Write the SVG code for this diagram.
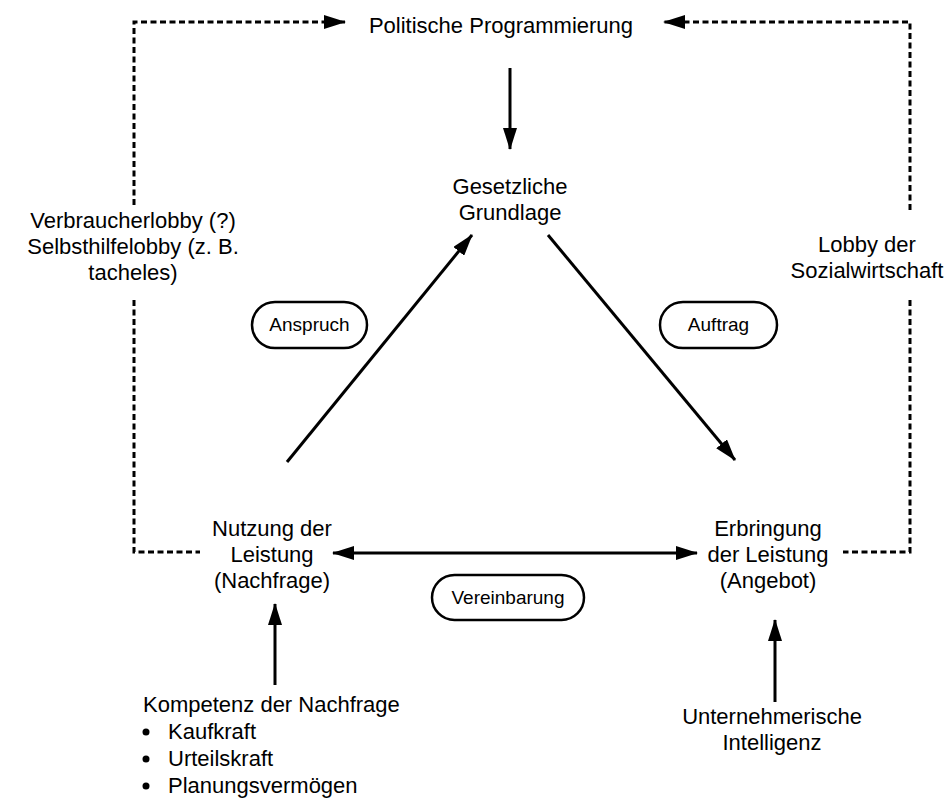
<svg xmlns="http://www.w3.org/2000/svg" width="950" height="799" viewBox="0 0 950 799">
<style>
text{font-family:"Liberation Sans",Arial,sans-serif;font-size:22px;fill:#000}
.c{text-anchor:middle}
.p{font-size:19px}
.sol{fill:none;stroke:#000;stroke-width:3}
.dash{fill:none;stroke:#000;stroke-width:3;stroke-dasharray:6 3.5}
.pill{fill:#fff;stroke:#000;stroke-width:2.5}
</style>
<defs>
<marker id="ah" markerUnits="userSpaceOnUse" markerWidth="22" markerHeight="14" refX="21" refY="7" orient="auto-start-reverse">
<path d="M0,0 L22,7 L0,14 z" fill="#000"/>
</marker>
</defs>
<rect width="950" height="799" fill="#fff"/>
<g id="connectors">
<path class="dash" d="M134,205 V22 H345" marker-end="url(#ah)"/>
<path class="dash" d="M134,300 V552 H200"/>
<path class="dash" d="M910,210 V22 H664" marker-end="url(#ah)"/>
<path class="dash" d="M910,300 V552 H843"/>
<path class="sol" d="M510,68 V149" marker-end="url(#ah)"/>
<path class="sol" d="M287,462 L472,235" marker-end="url(#ah)"/>
<path class="sol" d="M548,235 L735,460" marker-end="url(#ah)"/>
<path class="sol" d="M333,553 H697" marker-start="url(#ah)" marker-end="url(#ah)"/>
<path class="sol" d="M275,685 V604" marker-end="url(#ah)"/>
<path class="sol" d="M775,702 V620" marker-end="url(#ah)"/>
</g>
<g id="politische">
<text class="c" x="501" y="33">Politische Programmierung</text>
</g>
<g id="gesetzliche">
<text class="c" x="510" y="194">Gesetzliche</text>
<text class="c" x="510" y="220">Grundlage</text>
</g>
<g id="verbraucher">
<text class="c" x="133" y="228">Verbraucherlobby (?)</text>
<text class="c" x="133" y="254">Selbsthilfelobby (z. B.</text>
<text class="c" x="133" y="280">tacheles)</text>
</g>
<g id="sozialwirtschaft">
<text class="c" x="867" y="252">Lobby der</text>
<text class="c" x="867" y="278">Sozialwirtschaft</text>
</g>
<g id="anspruch">
<rect class="pill" x="252" y="302" width="115" height="46" rx="23"/>
<text class="c p" x="309.5" y="331">Anspruch</text>
</g>
<g id="auftrag">
<rect class="pill" x="660" y="302" width="117" height="46" rx="23"/>
<text class="c p" x="718.5" y="331">Auftrag</text>
</g>
<g id="nutzung">
<text class="c" x="272" y="536">Nutzung der</text>
<text class="c" x="272" y="562">Leistung</text>
<text class="c" x="272" y="588">(Nachfrage)</text>
</g>
<g id="erbringung">
<text class="c" x="768" y="536">Erbringung</text>
<text class="c" x="768" y="562">der Leistung</text>
<text class="c" x="768" y="588">(Angebot)</text>
</g>
<g id="vereinbarung">
<rect class="pill" x="432" y="575" width="152" height="45" rx="22.5"/>
<text class="c p" x="508" y="604">Vereinbarung</text>
</g>
<g id="kompetenz">
<text x="143" y="712">Kompetenz der Nachfrage</text>
<circle cx="146" cy="732" r="3.5"/>
<text x="168" y="739">Kaufkraft</text>
<circle cx="146" cy="759" r="3.5"/>
<text x="168" y="766">Urteilskraft</text>
<circle cx="146" cy="786" r="3.5"/>
<text x="168" y="793">Planungsvermögen</text>
</g>
<g id="unternehmerisch">
<text class="c" x="772" y="724">Unternehmerische</text>
<text class="c" x="772" y="750">Intelligenz</text>
</g>
</svg>
